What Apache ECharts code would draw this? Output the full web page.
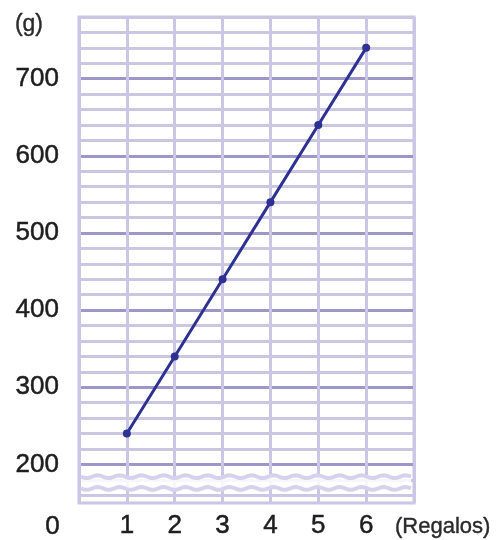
<!DOCTYPE html>
<html>
<head>
<meta charset="utf-8">
<script src="https://cdn.jsdelivr.net/npm/echarts@6/dist/echarts.min.js"></script>
<style>html,body{margin:0;padding:0;background:#fff;}#c{width:497px;height:540px;}</style>
</head>
<body>
<div id="c"></div>
<script>
// ---- data ----
const regalos = [1, 2, 3, 4, 5, 6];
const gramos = [240, 340, 440, 540, 640, 740];
const yTickLabels = [200, 300, 400, 500, 600, 700];
const xTickLabels = [1, 2, 3, 4, 5, 6];
const xName = '(Regalos)';
const yName = '(g)';
const originLabel = '0';
const yMin = 150, yMax = 780;
const breakRange = [165, 188];

const minorColor = '#cac6e3';
const majorColor = '#9d97c9';
const lineColor = '#2e3192';
const textColor = '#1e1e1e';
const FONT = 'Liberation Sans';

const minorCycle = ['rgba(0,0,0,0)', minorColor, 'rgba(0,0,0,0)', minorColor, 'rgba(0,0,0,0)',
                    'rgba(0,0,0,0)', 'rgba(0,0,0,0)', minorColor, 'rgba(0,0,0,0)', minorColor];

const chart = echarts.init(document.getElementById('c'), null, {renderer: 'canvas'});

const option = {
  animation: false,
  backgroundColor: '#fff',
  grid: {left: 79, right: 83, top: 17, bottom: 37, outerBoundsMode: 'none', containLabel: false,
         show: true, borderColor: minorColor, borderWidth: 3, backgroundColor: 'transparent'},
  xAxis: {
    type: 'value', min: 0, max: 7, interval: 1,
    axisLine: {show: false}, axisTick: {show: false},
    splitLine: {show: true, lineStyle: {color: minorColor, width: 3}},
    axisLabel: {
      margin: 10, color: textColor, fontSize: 26, fontFamily: FONT,
      textBorderColor: textColor, textBorderWidth: 0.5,
      formatter: v => xTickLabels.indexOf(v) >= 0 ? String(v) : ''
    },
    name: xName, nameLocation: 'end', nameGap: -19,
    nameTextStyle: {fontSize: 22, fontFamily: FONT, color: '#2a2a2a', align: 'left', verticalAlign: 'top',
                    padding: [13, 0, 0, 0], textBorderColor: '#2a2a2a', textBorderWidth: 0.4}
  },
  yAxis: [
    {
      type: 'value', min: yMin, max: yMax, interval: 10,
      axisLine: {show: false}, axisTick: {show: false},
      splitLine: {show: true, lineStyle: {color: minorCycle, width: 3}},
      axisLabel: {
        margin: 20, color: textColor, fontSize: 26, fontFamily: FONT,
        textBorderColor: textColor, textBorderWidth: 0.5,
        formatter: v => yTickLabels.indexOf(v) >= 0 ? String(v) : ''
      },
      name: yName, nameLocation: 'end', nameGap: -8,
      nameTextStyle: {fontSize: 23, fontFamily: FONT, color: '#2a2a2a', align: 'right', verticalAlign: 'middle',
                      padding: [0, 36, 0, 0], textBorderColor: '#2a2a2a', textBorderWidth: 0.4}
    },
    {
      type: 'value', min: yMin, max: yMax, interval: 50, position: 'left',
      axisLine: {show: false}, axisTick: {show: false}, axisLabel: {show: false},
      splitLine: {show: true, showMaxLine: false, lineStyle: {color: ['rgba(0,0,0,0)', majorColor], width: 3}}
    }
  ],
  graphic: [
    {type: 'text', left: 45, top: 514, style: {text: originLabel, font: '26px ' + FONT, fill: textColor,
      stroke: textColor, lineWidth: 0.5}}
  ],
  series: [
    {
      type: 'custom', silent: true, yAxisIndex: 0, z: 1,
      data: [breakRange],
      renderItem: function (params, api) {
        const cs = params.coordSys;
        const yTop = api.coord([0, api.value(1)])[1];
        const yBot = api.coord([0, api.value(0)])[1];
        const x0 = cs.x + 2, x1 = cs.x + cs.width - 2;
        const top = [], bot = [];
        for (let x = x0; x <= x1; x += 2) {
          const w = Math.sin((x - x0) / 22 * Math.PI * 2) * 1.4;
          top.push([x, yTop + 3 + w]);
          bot.push([x, yBot - 3 + w]);
        }
        const poly = top.concat(bot.slice().reverse());
        return {type: 'group', children: [
          {type: 'polygon', shape: {points: poly}, style: {fill: 'rgba(255,255,255,0.85)'}},
          {type: 'polyline', shape: {points: top}, style: {stroke: '#d6d2eb', lineWidth: 4, fill: null}},
          {type: 'polyline', shape: {points: bot}, style: {stroke: '#d6d2eb', lineWidth: 4, fill: null}}
        ]};
      }
    },
    {
      type: 'line', yAxisIndex: 0,
      data: regalos.map((r, i) => [r, gramos[i]]),
      lineStyle: {color: lineColor, width: 3},
      itemStyle: {color: lineColor},
      symbol: 'circle', symbolSize: 8, z: 5
    }
  ]
};
chart.setOption(option);
</script>
</body>
</html>
